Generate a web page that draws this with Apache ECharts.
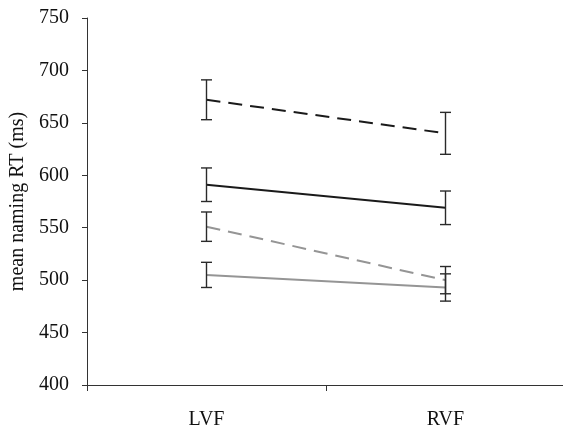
<!DOCTYPE html>
<html><head><meta charset="utf-8">
<script src="https://cdn.jsdelivr.net/npm/echarts@6/dist/echarts.min.js"></script>
<style>html,body{margin:0;padding:0;background:#fff}#c{width:563px;height:432px}</style>
</head><body><div id="c"></div>
<script>
var categories = ['LVF', 'RVF'];
var blackDashed = [672, 640];
var blackDashedErr = [19, 20];
var blackSolid = [591, 569];
var blackSolidErr = [16, 16];
var grayDashed = [551, 500];
var grayDashedErr = [14, 13];
var graySolid = [505, 493];
var graySolidErr = [12, 13];
var yTicks = [400, 450, 500, 550, 600, 650, 700, 750];

function lineSeries(data, color, type) {
  return {type: 'line', data: data, symbol: 'none', silent: true,
    lineStyle: {color: color, width: 2, type: type}, z: 2};
}
function errSeries(means, errs) {
  var d = means.map(function (m, i) { return [i, m - errs[i], m + errs[i]]; });
  return {type: 'custom', data: d, silent: true, z: 3,
    renderItem: function (params, api) {
      var lo = api.coord([api.value(0), api.value(1)]);
      var hi = api.coord([api.value(0), api.value(2)]);
      var w = 5.5;
      var st = {stroke: '#2a2a2a', lineWidth: 1.4};
      return {type: 'group', children: [
        {type: 'line', shape: {x1: lo[0], y1: lo[1], x2: hi[0], y2: hi[1]}, style: st},
        {type: 'line', shape: {x1: lo[0] - w, y1: lo[1], x2: lo[0] + w, y2: lo[1]}, style: st},
        {type: 'line', shape: {x1: hi[0] - w, y1: hi[1], x2: hi[0] + w, y2: hi[1]}, style: st}
      ]};
    }};
}
var chart = echarts.init(document.getElementById('c'));
chart.setOption({
  animation: false,
  grid: {left: 87, top: 18, width: 478, height: 367, outerBoundsMode: 'none', containLabel: false},
  xAxis: {type: 'category', data: categories, boundaryGap: true,
    axisLine: {lineStyle: {color: '#333', width: 1}},
    axisTick: {show: true, length: 6, lineStyle: {color: '#333'}},
    axisLabel: {color: '#111', fontFamily: 'Liberation Serif', fontSize: 20, margin: 25}},
  yAxis: {type: 'value', min: yTicks[0], max: yTicks[yTicks.length - 1], interval: 50,
    name: 'mean naming RT (ms)', nameLocation: 'middle', nameGap: 58,
    nameTextStyle: {color: '#111', fontFamily: 'Liberation Serif', fontSize: 20},
    axisLine: {show: true, lineStyle: {color: '#333', width: 1}},
    axisTick: {show: true, length: 5, lineStyle: {color: '#333'}},
    splitLine: {show: false},
    axisLabel: {color: '#111', fontFamily: 'Liberation Serif', fontSize: 20, margin: 18}},
  series: [
    lineSeries(blackDashed, '#1a1a1a', [14, 8]),
    lineSeries(blackSolid, '#1a1a1a', 'solid'),
    lineSeries(grayDashed, '#959595', [14, 8]),
    lineSeries(graySolid, '#959595', 'solid'),
    errSeries(blackDashed, blackDashedErr),
    errSeries(blackSolid, blackSolidErr),
    errSeries(grayDashed, grayDashedErr),
    errSeries(graySolid, graySolidErr)
  ]
});
</script></body></html>
